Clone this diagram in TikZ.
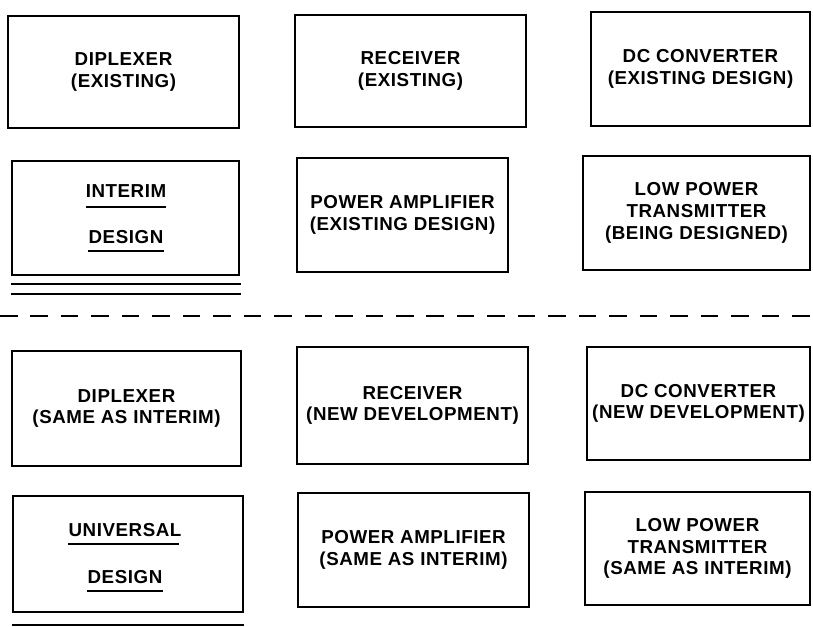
\documentclass[tikz,border=0pt]{standalone}
\usepackage{fontspec}
\setmainfont{Liberation Sans}[LetterSpace=3]
\usetikzlibrary{calc}
\newlength\unitpx
\setlength\unitpx{0.03cm}
\newcommand\boxfont{\fontsize{16}{18.5}\selectfont\bfseries}
\tikzset{
  box/.style={draw, line width=1.8pt, align=center, font=\boxfont, inner sep=0pt},
  lbl/.style={font=\boxfont, inner sep=0pt, anchor=base},
  uline/.style={line width=1.6pt},
  rule/.style={line width=1.6pt},
  dashline/.style={line width=1.3pt, dash pattern=on 15pt off 11pt},
}
\begin{document}
\begin{tikzpicture}[x=0.03cm, y=-0.03cm]
\useasboundingbox (0,0) rectangle (813,627);
% row 1
\node[box, minimum width=231\unitpx, minimum height=112\unitpx] (b11) at (123.5,72) {DIPLEXER\\(EXISTING)};
\node[box, minimum width=231\unitpx, minimum height=112\unitpx] (b12) at (410.5,71) {RECEIVER\\(EXISTING)};
\node[box, minimum width=219\unitpx, minimum height=114\unitpx] (b13) at (700.5,69) {DC CONVERTER\\(EXISTING DESIGN)};
% row 2
\node[box, minimum width=227\unitpx, minimum height=114\unitpx] (b21) at (125.5,218) {};
\node[lbl] (t21a) at (126,197.5) {INTERIM};
\node[lbl] (t21b) at (126,243.5) {DESIGN};
\draw[uline] ($(t21a.base west)+(0,9.5)$) -- ($(t21a.base east)+(0,9.5)$);
\draw[uline] ($(t21b.base west)+(0,7.5)$) -- ($(t21b.base east)+(0,7.5)$);
\draw[rule] ($(b21.south west)+(0,8)$) -- ($(b21.south east)+(1,8)$);
\draw[rule] ($(b21.south west)+(0,18)$) -- ($(b21.south east)+(1,18)$);
\node[box, minimum width=211\unitpx, minimum height=114\unitpx] (b22) at (402.5,215) {POWER AMPLIFIER\\(EXISTING DESIGN)};
\node[box, minimum width=227\unitpx, minimum height=114\unitpx] (b23) at (696.5,213) {LOW POWER\\TRANSMITTER\\(BEING DESIGNED)};
% divider
\coordinate (dl) at (0,316);
\coordinate (dr) at (813,316);
\draw[dashline] (dl) -- (dr);
% row 3
\node[box, minimum width=229\unitpx, minimum height=115\unitpx] (b31) at (126.5,408.5) {DIPLEXER\\(SAME AS INTERIM)};
\node[box, minimum width=231\unitpx, minimum height=117\unitpx] (b32) at (412.5,405.5) {RECEIVER\\(NEW DEVELOPMENT)};
\node[box, minimum width=223\unitpx, minimum height=113\unitpx] (b33) at (698.5,403.5) {DC CONVERTER\\(NEW DEVELOPMENT)};
% row 4
\node[box, minimum width=230\unitpx, minimum height=116\unitpx] (b41) at (128,554) {};
\node[lbl] (t41a) at (125,536.5) {UNIVERSAL};
\node[lbl] (t41b) at (125,583.5) {DESIGN};
\draw[uline] ($(t41a.base west)+(0,7.5)$) -- ($(t41a.base east)+(-3,7.5)$);
\draw[uline] ($(t41b.base west)+(0,7.5)$) -- ($(t41b.base east)+(0,7.5)$);
\draw[rule] ($(b41.south west)+(0,12)$) -- ($(b41.south east)+(0,12)$);
\node[box, minimum width=231\unitpx, minimum height=114\unitpx] (b42) at (413.5,550) {POWER AMPLIFIER\\(SAME AS INTERIM)};
\node[box, minimum width=225\unitpx, minimum height=113\unitpx] (b43) at (697.5,548.5) {LOW POWER\\TRANSMITTER\\(SAME AS INTERIM)};
\end{tikzpicture}
\end{document}
